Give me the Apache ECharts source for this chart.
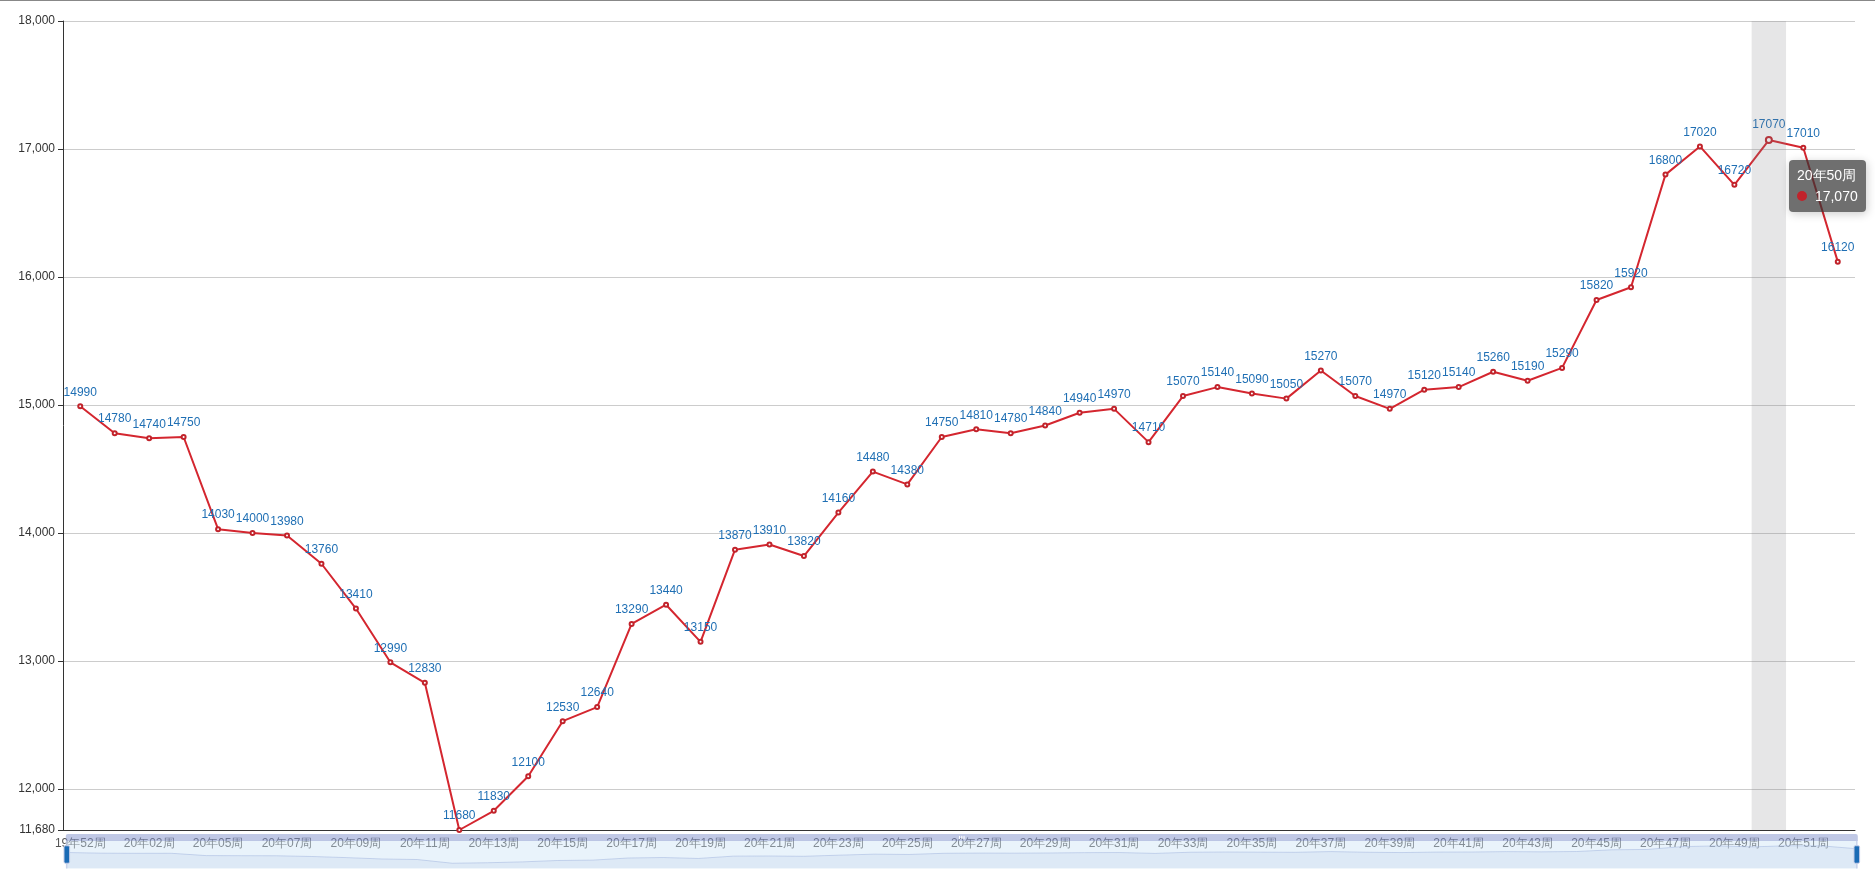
<!DOCTYPE html>
<html><head><meta charset="utf-8">
<script src="https://cdn.jsdelivr.net/npm/echarts@6/dist/echarts.min.js"></script>
<style>html,body{margin:0;padding:0;background:#fff}#c{width:1875px;height:870px;border-top:1px solid #888;box-sizing:border-box}</style>
</head><body><div id="c"></div>
<script>
const categories = ['19年52周','20年01周','20年02周','20年03周','20年05周','20年06周','20年07周','20年08周','20年09周','20年10周','20年11周','20年12周','20年13周','20年14周','20年15周','20年16周','20年17周','20年18周','20年19周','20年20周','20年21周','20年22周','20年23周','20年24周','20年25周','20年26周','20年27周','20年28周','20年29周','20年30周','20年31周','20年32周','20年33周','20年34周','20年35周','20年36周','20年37周','20年38周','20年39周','20年40周','20年41周','20年42周','20年43周','20年44周','20年45周','20年46周','20年47周','20年48周','20年49周','20年50周','20年51周','20年52周'];
const values = [14990,14780,14740,14750,14030,14000,13980,13760,13410,12990,12830,11680,11830,12100,12530,12640,13290,13440,13150,13870,13910,13820,14160,14480,14380,14750,14810,14780,14840,14940,14970,14710,15070,15140,15090,15050,15270,15070,14970,15120,15140,15260,15190,15290,15820,15920,16800,17020,16720,17070,17010,16120];
const yTicks = [11680,12000,13000,14000,15000,16000,17000,18000];
const yMin = 11680, yMax = 18000;
const chart = echarts.init(document.getElementById('c'));
chart.setOption({
  animation:false,
  grid:{left:63,right:20,top:20,bottom:40},
  tooltip:{trigger:'axis',axisPointer:{type:'shadow'},backgroundColor:'rgba(50,50,50,0.7)',borderWidth:0,textStyle:{color:'#fff',fontSize:14},padding:[5,8],
    formatter:p=>p[0].name+'<br/>'+p[0].marker+' '+echarts.format.addCommas(p[0].value)},
  xAxis:{type:'category',data:categories,axisLine:{lineStyle:{color:'#333'}},axisLabel:{color:'#555',fontSize:12}},
  yAxis:{type:'value',min:yMin,max:yMax,axisLine:{show:true,lineStyle:{color:'#333'}},
    axisTick:{show:true,customValues:yTicks},axisLabel:{color:'#333',fontSize:12,customValues:yTicks},splitLine:{lineStyle:{color:'#ccc'}}},
  dataZoom:[{type:'slider',start:0,end:100,bottom:8,height:28,showDetail:false,borderColor:'transparent',backgroundColor:'rgba(47,69,84,0)',fillerColor:'rgba(200,225,245,0.4)',handleStyle:{color:'#1a6bb5'},dataBackground:{lineStyle:{color:'#d0e0ee'},areaStyle:{color:'#d8e8f4'}}}],
  series:[{type:'line',data:values,color:'#c1232b',symbol:'emptyCircle',symbolSize:4,lineStyle:{width:2,color:'#c1232b'},
    label:{show:true,position:'top',color:'#1f6fb4',fontSize:12}}]
});
setTimeout(()=>chart.dispatchAction({type:'showTip',seriesIndex:0,dataIndex:49}),50);
</script></body></html>
